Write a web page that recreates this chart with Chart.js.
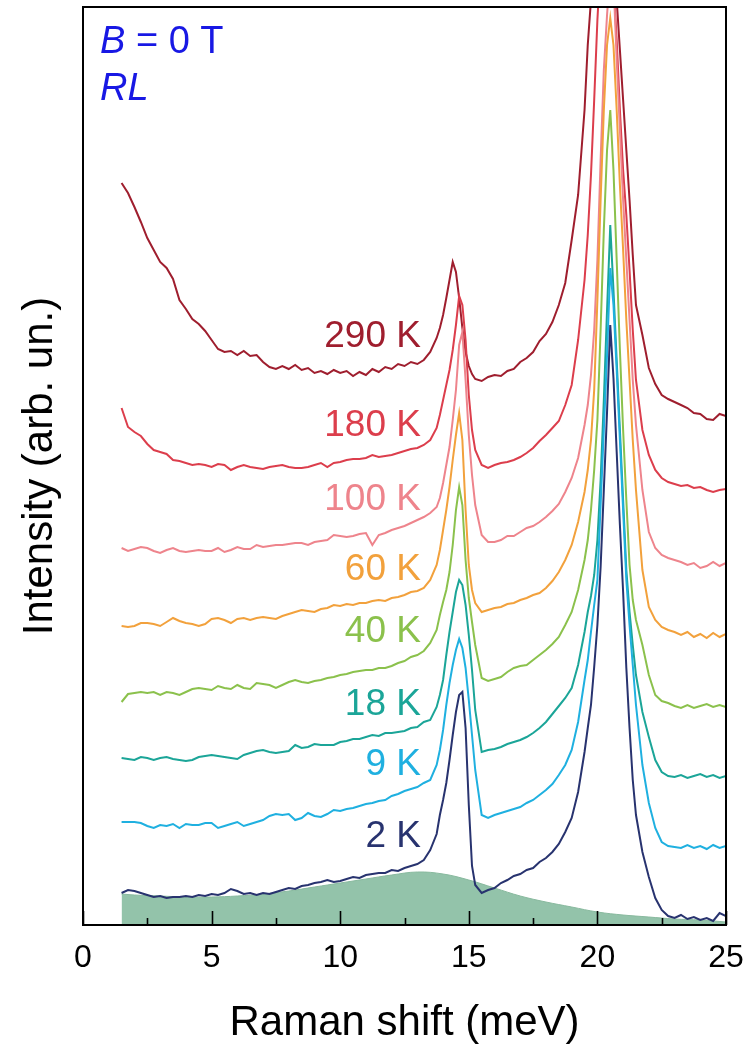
<!DOCTYPE html>
<html>
<head>
<meta charset="utf-8">
<script src="https://cdn.jsdelivr.net/npm/chart.js@4.4.1/dist/chart.umd.min.js"></script>
<style>
  html, body { margin: 0; padding: 0; background: #fff; }
  canvas { display: block; }
</style>
</head>
<body>
<canvas id="raman" width="751" height="1047"></canvas>
<script>
// Raman shift grid (meV), shared by every spectrum; denser across the two phonon peaks
const shift = [
  1.5, 1.75, 2, 2.25, 2.5, 2.75, 3, 3.25, 3.5, 3.75,
  4, 4.25, 4.5, 4.75, 5, 5.25, 5.5, 5.75, 6, 6.25,
  6.5, 6.75, 7, 7.25, 7.5, 7.75, 8, 8.25, 8.5, 8.75,
  9, 9.25, 9.5, 9.75, 10, 10.25, 10.5, 10.75, 11, 11.25,
  11.5, 11.75, 12, 12.25, 12.5, 12.75, 13, 13.25, 13.5, 13.75,
  13.875, 14, 14.125, 14.25, 14.375, 14.5, 14.625, 14.75, 14.875, 15,
  15.125, 15.25, 15.5, 15.75, 16, 16.25, 16.5, 16.75, 17, 17.25,
  17.5, 17.75, 18, 18.25, 18.5, 18.75, 19, 19.25, 19.5, 19.625,
  19.75, 19.875, 20, 20.125, 20.25, 20.375, 20.5, 20.625, 20.75, 20.875,
  21, 21.125, 21.25, 21.375, 21.5, 21.75, 22, 22.25, 22.5, 22.75,
  23, 23.25, 23.5, 23.75, 24, 24.25, 24.5, 24.75, 25
];

// intensities (arb. un.), already offset vertically per temperature
const i290 = [
  817, 807, 793, 778, 762, 750, 738, 732, 721, 700,
  691, 681, 676, 669, 660, 651, 648, 649, 645, 649,
  644, 645, 638, 633, 631, 634, 631, 635, 630, 632,
  627, 629, 626, 630, 627, 629, 624, 628, 625, 631,
  628, 633, 631, 636, 634, 638, 636, 640, 648, 662,
  672, 685, 702, 720, 738, 728, 702, 672, 648, 634,
  626, 621, 619, 623, 625, 624, 629, 631, 638, 642,
  648, 659, 666, 678, 695, 717, 760, 805, 890, 955,
  1000, 1050, 1090, 1110, 1110, 1090, 1060, 1030, 1000, 950,
  900, 850, 800, 745, 695, 665, 632, 616, 605, 601,
  598, 595, 592, 587, 586, 581, 580, 586, 584
];
const i180 = [
  592, 573, 568, 564, 556, 550, 548, 546, 540, 539,
  537, 535, 536, 535, 533, 536, 535, 530, 533, 535,
  533, 532, 531, 533, 534, 535, 533, 532, 532, 533,
  535, 537, 533, 537, 538, 540, 541, 541, 542, 545,
  543, 544, 545, 547, 549, 551, 552, 555, 560, 572,
  585, 600, 615, 630, 650, 675, 704, 695, 660, 605,
  570, 550, 535, 532, 535, 537, 538, 540, 543, 547,
  552, 559, 565, 572, 579, 595, 615, 660, 720, 765,
  825, 900, 980, 1040, 1070, 1070, 1050, 1020, 960, 890,
  830, 785, 730, 670, 620, 570, 545, 530, 522, 518,
  516, 514, 515, 512, 513, 510, 508, 510, 511
];
const i100 = [
  452, 449, 451, 453, 452, 449, 447, 450, 452, 449,
  448, 449, 450, 449, 449, 452, 448, 450, 453, 451,
  451, 455, 453, 454, 455, 455, 456, 457, 457, 455,
  458, 459, 460, 465, 464, 463, 464, 466, 467, 455,
  465, 467, 470, 472, 474, 477, 480, 483, 487, 493,
  502, 517, 535, 553, 580, 610, 655, 668, 620, 565,
  525, 495, 465, 458, 458, 460, 464, 464, 468, 472,
  474, 478, 483, 489, 496, 508, 522, 542, 575, 595,
  625, 670, 740, 840, 930, 985, 1030, 1020, 940, 870,
  800, 740, 680, 620, 575, 510, 468, 452, 445, 442,
  440, 438, 435, 437, 432, 434, 438, 434, 437
];
const i60 = [
  374, 373, 374, 377, 377, 376, 374, 378, 382, 379,
  377, 376, 374, 376, 381, 382, 380, 377, 381, 382,
  380, 382, 383, 382, 381, 384, 386, 388, 390, 389,
  388, 391, 392, 395, 394, 396, 395, 397, 397, 399,
  400, 399, 402, 403, 405, 408, 409, 412, 420, 435,
  450, 470, 490, 513, 540, 565, 587, 560, 490, 435,
  410, 397, 388, 390, 392, 393, 396, 397, 400, 402,
  405, 407, 412, 419, 428, 440, 455, 478, 508, 530,
  560, 610, 700, 800, 890, 955, 982, 955, 890, 815,
  750, 680, 620, 560, 510, 430, 393, 380, 373, 370,
  368, 365, 368, 363, 366, 362, 367, 363, 366
];
const i40 = [
  298, 306, 307, 308, 307, 308, 305, 308, 307, 305,
  308, 311, 312, 311, 310, 314, 312, 311, 315, 312,
  311, 317, 316, 315, 312, 315, 318, 320, 318, 317,
  319, 320, 322, 323, 325, 326, 328, 329, 330, 330,
  332, 332, 334, 337, 339, 343, 345, 349, 357, 370,
  385, 398, 410, 428, 455, 490, 513, 495, 440, 402,
  378, 355, 322, 319, 321, 323, 328, 332, 334, 335,
  340, 345, 350, 356, 363, 375, 388, 410, 440, 460,
  490, 530, 580, 670, 770, 850, 890, 830, 740, 650,
  570, 500, 435, 400, 380, 355, 325, 305, 299, 297,
  294, 292, 295, 292, 294, 296, 293, 295, 293
];
const i18 = [
  242, 241, 240, 243, 242, 240, 242, 243, 241, 240,
  239, 240, 243, 244, 245, 244, 243, 242, 241, 245,
  247, 249, 250, 248, 247, 248, 249, 255, 252, 253,
  256, 255, 255, 255, 258, 259, 261, 261, 263, 265,
  264, 267, 267, 268, 269, 272, 273, 278, 280, 293,
  305, 320, 345, 368, 388, 408, 420, 415, 395, 365,
  330, 290, 248, 250, 251, 253, 256, 258, 260, 263,
  267, 272, 278, 286, 294, 302, 312, 335, 368, 388,
  404, 425, 460, 520, 600, 690, 775, 710, 640, 570,
  500, 430, 388, 355, 325, 288, 263, 240, 228, 224,
  223, 225, 222, 224, 226, 223, 225, 222, 224
];
const i9 = [
  178, 178, 178, 177, 174, 172, 175, 174, 176, 172,
  176, 175, 175, 177, 177, 172, 174, 176, 178, 174,
  176, 178, 180, 184, 186, 185, 186, 180, 182, 187,
  184, 183, 186, 190, 189, 191, 192, 194, 196, 197,
  199, 200, 204, 206, 209, 211, 213, 217, 220, 235,
  250, 270, 295, 317, 335, 350, 361, 352, 332, 300,
  265, 230, 185, 182, 185, 187, 189, 191, 193, 197,
  200, 205, 210, 216, 225, 235, 250, 278, 320, 340,
  368, 395, 420, 495, 570, 645, 732, 695, 630, 560,
  490, 420, 375, 335, 295, 235, 197, 172, 158, 154,
  153, 152, 155, 152, 154, 151, 155, 152, 154
];
const i2 = [
  107, 110, 109, 107, 105, 103, 104, 102, 103, 103,
  104, 103, 105, 104, 106, 105, 107, 111, 109, 106,
  107, 105, 107, 106, 108, 110, 112, 111, 114, 115,
  117, 118, 120, 118, 119, 121, 123, 122, 125, 126,
  127, 127, 130, 129, 132, 134, 136, 140, 150, 166,
  185, 200, 217, 240, 265, 288, 305, 308, 272, 195,
  134, 115, 107, 110, 112, 117, 120, 124, 126, 130,
  132, 138, 142, 148, 156, 168, 182, 208, 248, 272,
  295, 333, 375, 433, 510, 588, 675, 622, 548, 475,
  408, 332, 272, 220, 185, 148, 123, 102, 90, 84,
  82, 85, 81, 83, 80, 82, 79, 87, 84
];

// broad shaded background under the 2 K spectrum
const bgShift = [1.5, 2, 3, 4, 5, 6, 7, 8, 9, 10, 11, 12, 13, 14, 15, 16, 17, 18, 19, 20, 21, 22, 23, 24, 25];
const bgLevel = [106, 105, 104, 103, 103, 104, 106, 109, 113, 117, 121, 125, 128, 126, 120, 112, 104, 98, 93, 88, 85, 83, 81, 80, 78];

const temps = ['2 K', '9 K', '18 K', '40 K', '60 K', '100 K', '180 K', '290 K'];
const spectra = [i2, i9, i18, i40, i60, i100, i180, i290];
const colors = ['#28336f', '#1fb0e0', '#1ba598', '#8bc14c', '#f2a13c', '#ee848c', '#dc3e4c', '#9f1e2e'];

// where each temperature tag sits (right edge in meV, vertical level in arb. un.)
const tagShift = 13.14;
const tagLevel = [163, 235, 295, 368, 430, 500, 574, 663];

const majorTicks = [0, 5, 10, 15, 20, 25];
const minorTicks = [2.5, 7.5, 12.5, 17.5, 22.5];

const FONT = '"Liberation Sans", Arial, Helvetica, sans-serif';

const datasets = spectra.map((vals, k) => ({
  label: temps[k],
  data: vals.map((v, i) => ({ x: shift[i], y: v })),
  borderColor: colors[k],
  borderWidth: 2,
  pointRadius: 0,
  tension: 0,
  fill: false,
  order: 0
}));

datasets.push({
  label: 'background',
  data: bgLevel.map((v, i) => ({ x: bgShift[i], y: v })),
  borderColor: '#88b99e',
  backgroundColor: '#93c3aa',
  borderWidth: 1,
  pointRadius: 0,
  tension: 0.4,
  fill: 'start',
  order: 1
});

const decor = {
  id: 'decor',
  afterDatasetsDraw(chart) {
    const { ctx, chartArea: a, scales: { x, y } } = chart;
    ctx.save();

    // frame
    ctx.strokeStyle = '#000';
    ctx.lineWidth = 2;
    ctx.strokeRect(a.left, a.top, a.right - a.left, a.bottom - a.top);

    // ticks point inward from the bottom axis
    ctx.lineWidth = 1.6;
    ctx.beginPath();
    majorTicks.forEach(v => {
      const px = Math.round(x.getPixelForValue(v)) + 0.5;
      ctx.moveTo(px, a.bottom);
      ctx.lineTo(px, a.bottom - 14);
    });
    minorTicks.forEach(v => {
      const px = Math.round(x.getPixelForValue(v)) + 0.5;
      ctx.moveTo(px, a.bottom);
      ctx.lineTo(px, a.bottom - 7);
    });
    ctx.stroke();

    // temperature tags
    ctx.font = '37px ' + FONT;
    ctx.textAlign = 'right';
    ctx.textBaseline = 'middle';
    temps.forEach((t, k) => {
      ctx.fillStyle = colors[k];
      ctx.fillText(t, x.getPixelForValue(tagShift), y.getPixelForValue(tagLevel[k]));
    });

    // field and polarisation note
    ctx.fillStyle = '#1818e4';
    ctx.textAlign = 'left';
    ctx.textBaseline = 'alphabetic';
    const nx = a.left + 17;
    ctx.font = 'italic 38px ' + FONT;
    ctx.fillText('B', nx, a.top + 46);
    const bw = ctx.measureText('B').width;
    ctx.font = '38px ' + FONT;
    ctx.fillText(' = 0 T', nx + bw, a.top + 46);
    ctx.font = 'italic 38px ' + FONT;
    ctx.fillText('RL', nx, a.top + 93);

    ctx.restore();
  }
};

new Chart(document.getElementById('raman'), {
  type: 'line',
  data: { datasets },
  options: {
    responsive: false,
    animation: false,
    layout: { padding: { top: 7, right: 25, left: 0, bottom: 0 } },
    plugins: {
      legend: { display: false },
      tooltip: { enabled: false }
    },
    scales: {
      x: {
        type: 'linear',
        min: 0,
        max: 25,
        grid: { display: false, drawTicks: false },
        border: { display: false },
        ticks: {
          stepSize: 5,
          color: '#000',
          padding: 14,
          font: { family: FONT, size: 32 }
        },
        title: {
          display: true,
          text: 'Raman shift (meV)',
          color: '#000',
          font: { family: FONT, size: 42, lineHeight: 1.1 },
          padding: { top: 0, bottom: 0 }
        },
        afterFit(scale) {
          scale.height = 122;
          // tick labels may overhang the frame; keep the plot edges fixed
          scale.paddingLeft = 0;
          scale.paddingRight = 0;
        }
      },
      y: {
        min: 75,
        max: 993,
        grid: { display: false, drawTicks: false },
        border: { display: false },
        ticks: { display: false },
        title: {
          display: true,
          text: 'Intensity (arb. un.)',
          color: '#000',
          font: { family: FONT, size: 42 },
          padding: { top: 15, bottom: 0 }
        },
        afterFit(scale) { scale.width = 83; }
      }
    }
  },
  plugins: [decor]
});
</script>
</body>
</html>
